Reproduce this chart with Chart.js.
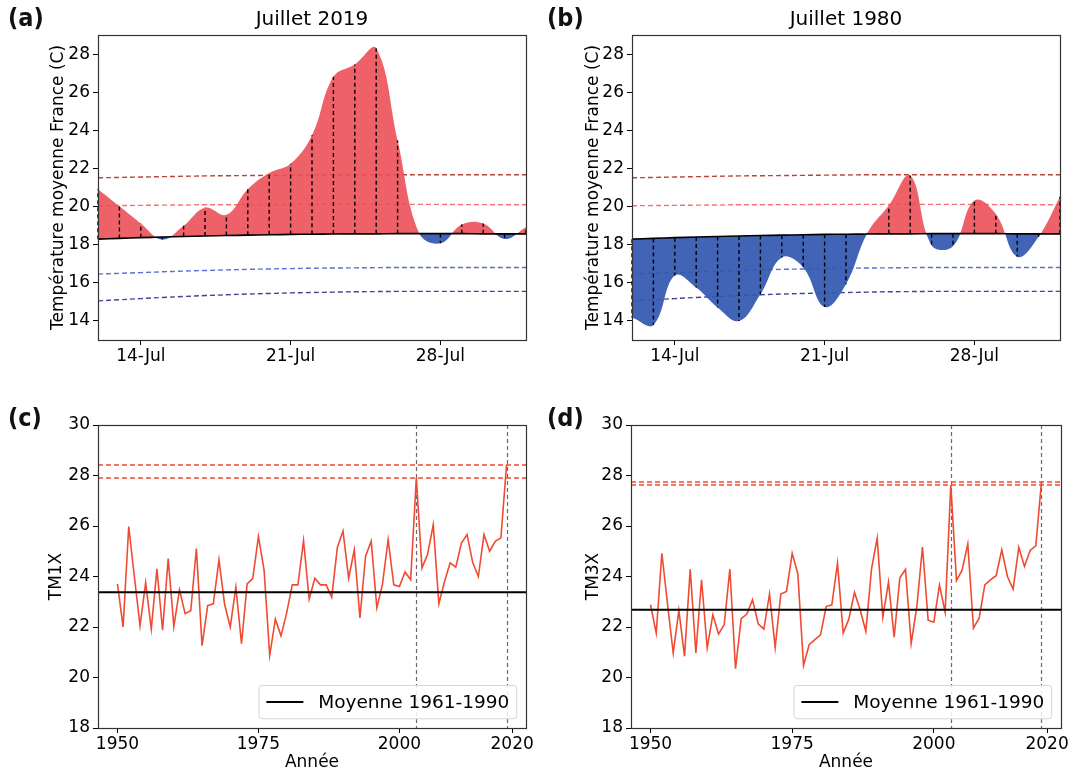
<!DOCTYPE html>
<html>
<head>
<meta charset="utf-8">
<script src="https://cdn.jsdelivr.net/npm/chart.js"></script>
<style>
  body { margin: 0; background: #fff; }
  #fig { position: relative; width: 1073px; height: 774px; overflow: hidden; background: #fff; }
  canvas { position: absolute; }
  .tag { position: absolute; font-family: 'Liberation Sans Narrow', 'DejaVu Sans Condensed', sans-serif;
         font-weight: bold; font-size: 25px; color: #111; }
</style>
</head>
<body>
<div id="fig">
  <canvas id="chartA" width="536" height="392" style="left:0;top:0"></canvas>
  <canvas id="chartB" width="537" height="392" style="left:536px;top:0"></canvas>
  <canvas id="chartC" width="536" height="374" style="left:0;top:400px"></canvas>
  <canvas id="chartD" width="537" height="374" style="left:536px;top:400px"></canvas>
  <div class="tag" style="left:8px;top:3px">(a)</div>
  <div class="tag" style="left:547px;top:3px">(b)</div>
  <div class="tag" style="left:8px;top:403px">(c)</div>
  <div class="tag" style="left:547px;top:403px">(d)</div>
</div>
<script>
// --- July daily means (France), days of July 12 .. Aug 1
const days = [12, 13, 14, 15, 16, 17, 18, 19, 20, 21, 22, 23, 24, 25, 26, 27, 28, 29, 30, 31, 32];
const temp2019 = [20.9, 20.0, 19.1, 18.25, 18.97, 19.92, 19.55, 20.9, 21.75, 22.24, 23.74,
                  26.82, 27.47, 28.32, 23.47, 18.6, 18.05, 19.04, 19.1, 18.28, 18.9];
const temp1980 = [14.14, 13.75, 16.35, 15.72, 14.67, 13.96, 15.37, 17.31, 16.78, 14.7, 15.9,
                  18.6, 20.04, 21.62, 17.95, 17.9, 20.3, 19.6, 17.35, 18.4, 20.5];
// climatology and thresholds
const climMean = [18.27, 18.31, 18.35, 18.38, 18.41, 18.44, 18.46, 18.48, 18.5, 18.52, 18.53,
                  18.54, 18.55, 18.55, 18.56, 18.56, 18.56, 18.56, 18.55, 18.55, 18.55];
const upperOuter = [21.5, 21.52, 21.54, 21.56, 21.58, 21.6, 21.61, 21.62, 21.63, 21.64, 21.65,
                    21.66, 21.66, 21.66, 21.66, 21.66, 21.66, 21.66, 21.66, 21.66, 21.66];
const upperInner = [20.03, 20.04, 20.05, 20.06, 20.07, 20.08, 20.08, 20.09, 20.09, 20.1, 20.1,
                    20.1, 20.1, 20.1, 20.1, 20.1, 20.1, 20.09, 20.09, 20.08, 20.08];
const lowerInner = [16.43, 16.47, 16.51, 16.55, 16.59, 16.62, 16.65, 16.68, 16.7, 16.72, 16.74,
                    16.75, 16.76, 16.77, 16.78, 16.78, 16.78, 16.78, 16.78, 16.78, 16.78];
const lowerOuter = [15.02, 15.08, 15.14, 15.2, 15.25, 15.3, 15.34, 15.38, 15.41, 15.44, 15.46,
                    15.48, 15.5, 15.51, 15.52, 15.52, 15.52, 15.52, 15.52, 15.52, 15.52];
const dayTicks = [14, 21, 28];
const dayTickLabels = ['14-Jul', '21-Jul', '28-Jul'];
const julyTicks = [14, 16, 18, 20, 22, 24, 26, 28];

// --- yearly maxima 1950 .. 2019
const years = [1950, 1951, 1952, 1953, 1954, 1955, 1956, 1957, 1958, 1959,
               1960, 1961, 1962, 1963, 1964, 1965, 1966, 1967, 1968, 1969,
               1970, 1971, 1972, 1973, 1974, 1975, 1976, 1977, 1978, 1979,
               1980, 1981, 1982, 1983, 1984, 1985, 1986, 1987, 1988, 1989,
               1990, 1991, 1992, 1993, 1994, 1995, 1996, 1997, 1998, 1999,
               2000, 2001, 2002, 2003, 2004, 2005, 2006, 2007, 2008, 2009,
               2010, 2011, 2012, 2013, 2014, 2015, 2016, 2017, 2018, 2019];
const tm1x = [23.71, 22.0, 25.98, 24.0, 22.05, 23.76, 21.92, 24.3, 21.87, 24.71,
              22.02, 23.47, 22.53, 22.64, 25.11, 21.26, 22.85, 22.92, 24.66, 22.9,
              22.0, 23.58, 21.34, 23.71, 23.93, 25.58, 24.26, 20.87, 22.31, 21.65,
              22.55, 23.67, 23.67, 25.42, 23.1, 23.93, 23.67, 23.67, 23.18, 25.16,
              25.8, 23.93, 25.06, 22.36, 24.8, 25.4, 22.76, 23.7, 25.46, 23.67,
              23.6, 24.18, 23.87, 27.9, 24.34, 24.88, 26.05, 22.92, 23.8, 24.54,
              24.37, 25.32, 25.66, 24.55, 24.0, 25.66, 25.0, 25.39, 25.53, 28.42];
const tm3x = [22.88, 21.76, 24.92, 22.9, 20.97, 22.66, 20.84, 24.29, 20.97, 23.87,
              21.17, 22.48, 21.72, 22.09, 24.29, 20.35, 22.33, 22.51, 23.08, 22.13,
              21.92, 23.31, 21.19, 23.31, 23.41, 24.92, 24.1, 20.48, 21.3, 21.5,
              21.69, 22.81, 22.88, 24.53, 21.76, 22.31, 23.37, 22.68, 21.83, 24.29,
              25.52, 22.38, 23.78, 21.6, 23.95, 24.28, 21.35, 22.8, 25.17, 22.27,
              22.19, 23.66, 22.59, 27.62, 23.84, 24.26, 25.29, 21.96, 22.35, 23.67,
              23.87, 24.03, 25.06, 24.0, 23.5, 25.16, 24.4, 25.03, 25.21, 27.74];
const meanTM1X = 23.38;
const meanTM3X = 22.68;
const eventYears = [2003, 2019];
const yearTicks = [1950, 1975, 2000, 2020];
const tmTicks = [18, 20, 22, 24, 26, 28, 30];

const RED = '#f04b32';
const FONT = "'DejaVu Sans', sans-serif";

Chart.defaults.font.family = FONT;
Chart.defaults.font.size = 17;
Chart.defaults.color = '#000';

function pts(xs, ys) {
  return xs.map((x, i) => ({ x: x, y: ys[i] }));
}

// axes box like matplotlib
const frame = {
  id: 'frame',
  afterDraw(chart) {
    const { ctx, chartArea: a } = chart;
    ctx.save();
    ctx.strokeStyle = '#333';
    ctx.lineWidth = 1.2;
    ctx.strokeRect(Math.round(a.left) + 0.5, Math.round(a.top) + 0.5,
                   Math.round(a.right - a.left), Math.round(a.bottom - a.top));
    ctx.restore();
  }
};

// dashed vertical line per day from climatology to observed value
function makeDayLines(values) {
  return {
    id: 'dayLines',
    afterDatasetsDraw(chart) {
      const { ctx, scales: { x, y } } = chart;
      ctx.save();
      ctx.strokeStyle = '#000';
      ctx.lineWidth = 1.4;
      ctx.setLineDash([4, 3]);
      days.forEach((d, i) => {
        const px = x.getPixelForValue(d);
        ctx.beginPath();
        ctx.moveTo(px, y.getPixelForValue(climMean[i]));
        ctx.lineTo(px, y.getPixelForValue(values[i]));
        ctx.stroke();
      });
      ctx.restore();
    }
  };
}

// record lines, event years, mean line and legend for the yearly panels
function makeYearlyDecor(values, mean, legendText) {
  return {
    id: 'yearlyDecor',
    beforeDatasetsDraw(chart) {
      const { ctx, chartArea: a, scales: { x, y } } = chart;
      ctx.save();
      ctx.setLineDash([4, 3]);
      ctx.lineWidth = 1.2;
      ctx.strokeStyle = 'rgba(80,80,80,0.85)';
      eventYears.forEach(yr => {
        const px = Math.round(x.getPixelForValue(yr)) + 0.5;
        ctx.beginPath(); ctx.moveTo(px, a.top); ctx.lineTo(px, a.bottom); ctx.stroke();
      });
      ctx.setLineDash([5, 3]);
      ctx.lineWidth = 1.5;
      ctx.strokeStyle = RED;
      eventYears.forEach(yr => {
        const py = y.getPixelForValue(values[years.indexOf(yr)]);
        ctx.beginPath(); ctx.moveTo(a.left, py); ctx.lineTo(a.right, py); ctx.stroke();
      });
      ctx.restore();
    },
    afterDatasetsDraw(chart) {
      const { ctx, chartArea: a, scales: { y } } = chart;
      ctx.save();
      ctx.strokeStyle = '#000';
      ctx.lineWidth = 2;
      const py = y.getPixelForValue(mean);
      ctx.beginPath(); ctx.moveTo(a.left, py); ctx.lineTo(a.right, py); ctx.stroke();
      ctx.restore();
    },
    afterDraw(chart) {
      const { ctx, chartArea: a } = chart;
      const fs = 18.5;
      ctx.save();
      ctx.font = fs + 'px ' + FONT;
      const tw = ctx.measureText(legendText).width;
      const pad = 0.4 * fs, hl = 2 * fs, hp = 0.8 * fs, gap = 0.5 * fs;
      const w = 2 * pad + hl + hp + tw, h = 2 * pad + fs * 1.0;
      const x0 = a.right - gap - w, y0 = a.bottom - gap - h;
      ctx.beginPath();
      ctx.roundRect(x0, y0, w, h, 3);
      ctx.fillStyle = 'rgba(255,255,255,0.85)';
      ctx.fill();
      ctx.strokeStyle = '#d4d4d4';
      ctx.lineWidth = 1;
      ctx.stroke();
      ctx.strokeStyle = '#000';
      ctx.lineWidth = 2;
      ctx.beginPath();
      ctx.moveTo(x0 + pad, y0 + h / 2);
      ctx.lineTo(x0 + pad + hl, y0 + h / 2);
      ctx.stroke();
      ctx.fillStyle = '#000';
      ctx.textBaseline = 'middle';
      ctx.fillText(legendText, x0 + pad + hl + hp, y0 + h / 2 + 1);
      ctx.restore();
    }
  };
}

function yAxis(min, max, ticks, label, titlePad, width) {
  return {
    type: 'linear', min: min, max: max,
    afterBuildTicks: s => { s.ticks = ticks.map(v => ({ value: v })); },
    afterFit: s => { s.width = width; },
    grid: { drawOnChartArea: false, drawTicks: true, tickLength: 5, color: '#000' },
    border: { display: false },
    ticks: { padding: 3, callback: v => String(v) },
    title: { display: true, text: label, font: { size: 17 }, padding: { top: titlePad, bottom: 0 } }
  };
}

function xAxis(min, max, ticks, labels, height, label) {
  return {
    type: 'linear', min: min, max: max,
    afterBuildTicks: s => { s.ticks = ticks.map(v => ({ value: v })); },
    afterFit: s => { s.height = height; },
    grid: { drawOnChartArea: false, drawTicks: true, tickLength: 5, color: '#000' },
    border: { display: false },
    ticks: { padding: 1, maxRotation: 0, autoSkip: false,
             callback: v => labels ? labels[ticks.indexOf(v)] : String(v) },
    title: { display: !!label, text: label || '', font: { size: 17 }, padding: { top: 0, bottom: 1 } }
  };
}

function julyChart(id, temps, title, yTitlePad, yWidth, padRight) {
  const refLine = (vals, color) => ({
    data: pts(days, vals), borderColor: color, borderWidth: 1.4, borderDash: [5, 3],
    pointRadius: 0, tension: 0.4, fill: false, order: 3
  });
  return new Chart(document.getElementById(id), {
    type: 'line',
    data: {
      datasets: [
        { label: 'obs', data: pts(days, temps), borderColor: 'transparent', borderWidth: 0,
          pointRadius: 0, tension: 0.4, order: 2,
          fill: { target: 1, above: 'rgba(236,80,88,0.9)', below: 'rgba(52,88,176,0.93)' } },
        { label: 'clim', data: pts(days, climMean), borderColor: '#000', borderWidth: 1.6,
          pointRadius: 0, tension: 0.4, fill: false, order: 1 },
        refLine(upperOuter, 'rgba(165,40,25,0.85)'),
        refLine(upperInner, 'rgba(240,90,90,0.85)'),
        refLine(lowerInner, 'rgba(65,85,205,0.85)'),
        refLine(lowerOuter, 'rgba(35,35,130,0.85)')
      ]
    },
    options: {
      responsive: false, animation: false, events: [],
      layout: { padding: { left: 0, right: padRight, top: 0, bottom: 0 } },
      plugins: {
        legend: { display: false }, tooltip: { enabled: false },
        title: { display: true, text: title, fullSize: false, color: '#000',
                 font: { size: 20, weight: 'normal' }, padding: { top: 8, bottom: 3 } }
      },
      scales: {
        x: xAxis(12, 32, dayTicks, dayTickLabels, 52, null),
        y: yAxis(12.96, 29.02, julyTicks, 'Température moyenne France (C)', yTitlePad, yWidth)
      }
    },
    plugins: [frame, makeDayLines(temps)]
  });
}

function yearlyChart(id, values, mean, label, yTitlePad, yWidth, padRight) {
  return new Chart(document.getElementById(id), {
    type: 'line',
    data: {
      datasets: [
        { label: label, data: pts(years, values), borderColor: RED, borderWidth: 1.6,
          pointRadius: 0, tension: 0, fill: false }
      ]
    },
    options: {
      responsive: false, animation: false, events: [],
      layout: { padding: { left: 0, right: padRight, top: 25, bottom: 0 } },
      plugins: { legend: { display: false }, tooltip: { enabled: false } },
      scales: {
        x: xAxis(1946.55, 2022.45, yearTicks, null, 46, 'Année'),
        y: yAxis(18, 30, tmTicks, label, yTitlePad, yWidth)
      }
    },
    plugins: [frame, makeYearlyDecor(values, mean, 'Moyenne 1961-1990')]
  });
}

julyChart('chartA', temp2019, 'Juillet 2019', 48, 98, 10);
julyChart('chartB', temp1980, 'Juillet 1980', 47, 96, 13);
yearlyChart('chartC', tm1x, meanTM1X, 'TM1X', 46, 98, 10);
yearlyChart('chartD', tm3x, meanTM3X, 'TM3X', 47, 95, 12);
</script>
</body>
</html>
